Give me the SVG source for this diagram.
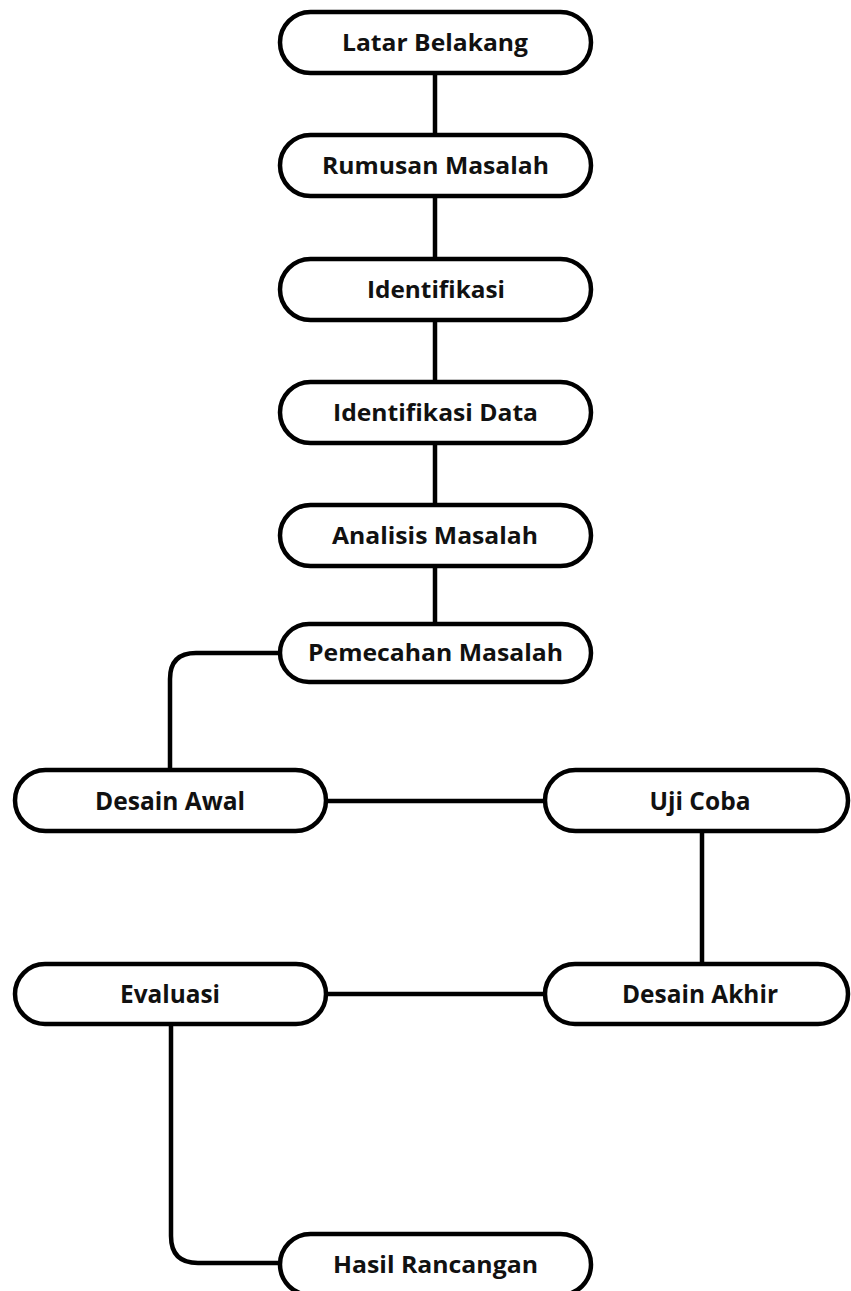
<svg xmlns="http://www.w3.org/2000/svg" width="851" height="1291" viewBox="0 0 851 1291">
<style>
.node rect{fill:#fff;stroke:#000;stroke-width:4.5}
.node text{font-family:"Open Sans","Noto Sans",sans-serif;font-weight:700;fill:#111;text-anchor:middle;lengthAdjust:spacingAndGlyphs}
.t{font-size:23px}
.b{font-size:25px}
.conn path{fill:none;stroke:#000;stroke-width:4.5}
</style>
<rect width="851" height="1291" fill="#fff"/>
<g class="conn">
<path d="M435,75 V133"/>
<path d="M435,198 V257"/>
<path d="M435,322 V380"/>
<path d="M435,445 V503"/>
<path d="M435,568 V622"/>
<path d="M280,653 H196 Q170,653 170,679 V768"/>
<path d="M328,801 H545"/>
<path d="M702,833 V962"/>
<path d="M545,994 H328"/>
<path d="M171,1026 V1236 Q171,1263 198,1263 H280"/>
</g>
<g id="latar" class="node"><rect x="280" y="12" width="311" height="61" rx="30.5"/><text class="t" x="435" y="51" textLength="186" lengthAdjust="spacingAndGlyphs">Latar Belakang</text></g>
<g id="rumusan" class="node"><rect x="280" y="135" width="311" height="61" rx="30.5"/><text class="t" x="435.5" y="174" textLength="227" lengthAdjust="spacingAndGlyphs">Rumusan Masalah</text></g>
<g id="identifikasi" class="node"><rect x="280" y="259" width="311" height="61" rx="30.5"/><text class="t" x="436" y="298" textLength="138" lengthAdjust="spacingAndGlyphs">Identifikasi</text></g>
<g id="identifikasi-data" class="node"><rect x="280" y="382" width="311" height="61" rx="30.5"/><text class="t" x="435.5" y="421" textLength="205" lengthAdjust="spacingAndGlyphs">Identifikasi Data</text></g>
<g id="analisis" class="node"><rect x="280" y="505" width="311" height="61" rx="30.5"/><text class="t" x="435" y="544" textLength="206" lengthAdjust="spacingAndGlyphs">Analisis Masalah</text></g>
<g id="pemecahan" class="node"><rect x="280" y="624" width="311" height="58" rx="29"/><text class="t" x="435.5" y="661" textLength="255" lengthAdjust="spacingAndGlyphs">Pemecahan Masalah</text></g>
<g id="desain-awal" class="node"><rect x="15" y="770" width="311" height="61" rx="30.5"/><text class="b" x="170" y="810" textLength="150" lengthAdjust="spacingAndGlyphs">Desain Awal</text></g>
<g id="uji-coba" class="node"><rect x="545" y="770" width="303" height="61" rx="30.5"/><text class="b" x="700" y="810" textLength="101" lengthAdjust="spacingAndGlyphs">Uji Coba</text></g>
<g id="evaluasi" class="node"><rect x="15" y="964" width="311" height="60" rx="30"/><text class="b" x="170" y="1003" textLength="100" lengthAdjust="spacingAndGlyphs">Evaluasi</text></g>
<g id="desain-akhir" class="node"><rect x="545" y="964" width="303" height="60" rx="30"/><text class="b" x="700" y="1003" textLength="156" lengthAdjust="spacingAndGlyphs">Desain Akhir</text></g>
<g id="hasil" class="node"><rect x="280" y="1234" width="311" height="61" rx="30.5"/><text class="t" x="435.5" y="1273" textLength="205" lengthAdjust="spacingAndGlyphs">Hasil Rancangan</text></g>
</svg>
